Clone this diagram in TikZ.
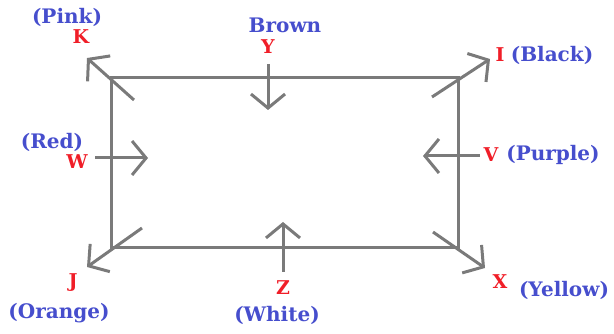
\documentclass[tikz,border=0pt]{standalone}
\usepackage{fontspec}
\setmainfont{DejaVu Serif}
\usetikzlibrary{arrows.meta}
\definecolor{tagblue}{RGB}{70,78,205}
\definecolor{tagred}{RGB}{240,30,40}
\definecolor{wire}{RGB}{122,122,122}
\tikzset{
  frame/.style={draw=wire,line width=3pt},
  pointer/.style={frame,-{Straight Barb[length=14pt,width=34pt]}},
  letter/.style={text=tagred,inner sep=0pt,font=\bfseries\fontsize{19}{19}\selectfont},
  shade/.style={text=tagblue,inner sep=0pt,font=\bfseries\fontsize{20}{20}\selectfont}
}

\begin{document}
\begin{tikzpicture}[x=1pt,y=-1pt]
\useasboundingbox (0,0) rectangle (614,334);
\coordinate (NW) at (111,78);
\coordinate (SE) at (458,248);
\draw[frame] (NW) rectangle (SE);
% corner pointers
\coordinate (k0) at (134,100); \coordinate (k1) at (87,58);
\coordinate (i0) at (432,97);  \coordinate (i1) at (490,59);
\coordinate (j0) at (142,228); \coordinate (j1) at (87,267);
\coordinate (x0) at (433,232); \coordinate (x1) at (485,268);
% side pointers
\coordinate (y0) at (268,64);  \coordinate (y1) at (268,110);
\coordinate (w0) at (95,158);  \coordinate (w1) at (148,158);
\coordinate (v0) at (480,156); \coordinate (v1) at (423,156);
\coordinate (z0) at (283,272); \coordinate (z1) at (283,222);
\foreach \a in {k,i,j,x,y,w,v,z}
  \draw[pointer] (\a0) -- (\a1);
% labels
\node[shade]  (pink)   at (67,17)   {(Pink)};
\node[letter] (K)      at (81,37)   {K};
\node[shade]  (brown)  at (285,25)  {Brown};
\node[letter] (Y)      at (268,47)  {Y};
\node[letter] (I)      at (500,55)  {I};
\node[shade]  (black)  at (552,55)  {(Black)};
\node[shade]  (red)    at (52,142)  {(Red)};
\node[letter] (W)      at (77,162)  {W};
\node[letter] (V)      at (491,155) {V};
\node[shade]  (purple) at (553,155) {(Purple)};
\node[letter] (J)      at (73,283)  {J};
\node[shade]  (orange) at (59,313)  {(Orange)};
\node[letter] (Z)      at (283,288) {Z};
\node[shade]  (white)  at (277,315) {(White)};
\node[letter] (X)      at (500,282) {X};
\node[shade]  (yellow) at (564,290) {(Yellow)};
\end{tikzpicture}
\end{document}
